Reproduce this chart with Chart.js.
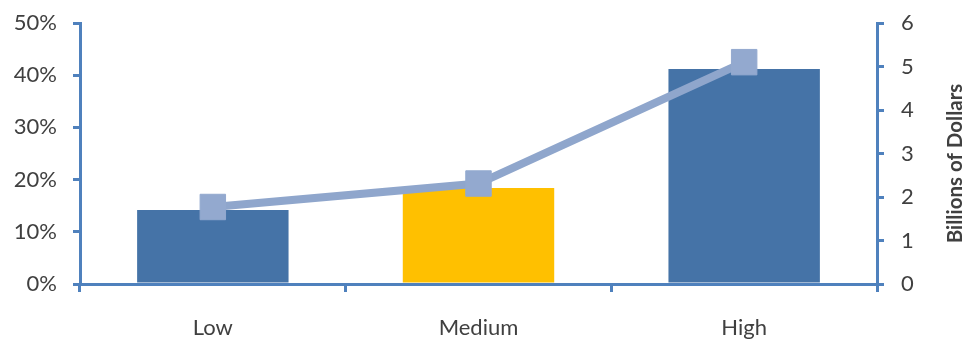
<!DOCTYPE html>
<html>
<head>
<meta charset="utf-8">
<script src="https://cdn.jsdelivr.net/npm/chart.js@4.4.1/dist/chart.umd.min.js"></script>
<style>
  html, body { margin: 0; padding: 0; background: #ffffff; }
  #wrap { width: 966px; height: 339px; }
</style>
</head>
<body>
<div id="wrap"><canvas id="risk-chart" width="966" height="339"></canvas></div>
<script>
const categories = ['Low', 'Medium', 'High'];
const shareValues = [0.142, 0.184, 0.412];   // left axis, percent
const billionValues = [1.77, 2.31, 5.1];     // right axis, billions
const rightAxisTitle = 'Billions of Dollars';

const axisBlue = '#4F81BD';
const textGrey = '#404040';
const barColors = ['#4573A7', '#FFC000', '#4573A7'];
const lineColor = '#8FA6CC';
const fontFamily = 'Lato, "Liberation Sans", sans-serif';

// Chart.js rotates right-side titles the other way, so draw it by hand
const rightTitlePlugin = {
  id: 'rightTitle',
  afterDraw(chart) {
    const ctx = chart.ctx;
    const area = chart.chartArea;
    ctx.save();
    ctx.translate(955, (area.top + area.bottom) / 2 + 10);
    ctx.rotate(-Math.PI / 2);
    ctx.font = 'bold 20.5px ' + fontFamily;
    ctx.fillStyle = textGrey;
    ctx.textAlign = 'center';
    ctx.textBaseline = 'middle';
    ctx.fillText(rightAxisTitle, 0, 0);
    ctx.restore();
  },
};

// fixed box for the value axes so the plot sits where it should
function fitValueAxis(width) {
  return (scale) => {
    scale.width = width;
    scale.paddingTop = 12;
    scale.paddingBottom = 12;
  };
}

const ctx = document.getElementById('risk-chart').getContext('2d');
new Chart(ctx, {
  data: {
    labels: categories,
    datasets: [
      {
        type: 'line',
        data: billionValues,
        yAxisID: 'y1',
        order: 0,
        borderColor: lineColor,
        borderWidth: 8,
        pointStyle: 'rect',
        pointRadius: 18,
        pointBackgroundColor: '#93A9CF',
        pointBorderColor: '#93A9CF',
        pointBorderWidth: 1,
        tension: 0,
      },
      {
        type: 'bar',
        data: shareValues,
        yAxisID: 'y',
        order: 1,
        backgroundColor: barColors,
        barPercentage: 0.57,
        categoryPercentage: 1,
      },
    ],
  },
  options: {
    responsive: false,
    animation: false,
    layout: { padding: { top: 23, left: 0, right: 0, bottom: 0 } },
    plugins: {
      legend: { display: false },
      tooltip: { enabled: false },
    },
    scales: {
      x: {
        afterFit(scale) { scale.height = 55; },
        border: { color: axisBlue, width: 3 },
        grid: {
          offset: true,
          drawOnChartArea: false,
          color: axisBlue,
          lineWidth: 3,
          tickLength: 8,
        },
        ticks: {
          color: textGrey,
          padding: 23,
          font: { family: fontFamily, size: 22 },
        },
      },
      y: {
        position: 'left',
        min: 0,
        max: 0.5,
        afterFit: fitValueAxis(80),
        border: { color: axisBlue, width: 3 },
        grid: {
          drawOnChartArea: false,
          color: axisBlue,
          lineWidth: 3,
          tickLength: 7,
        },
        ticks: {
          stepSize: 0.1,
          color: textGrey,
          padding: 16,
          font: { family: fontFamily, size: 22 },
          callback: (v) => Math.round(v * 100) + '%',
        },
      },
      y1: {
        position: 'right',
        min: 0,
        max: 6,
        afterFit: fitValueAxis(89),
        border: { color: axisBlue, width: 3 },
        grid: {
          drawOnChartArea: false,
          color: axisBlue,
          lineWidth: 3,
          tickLength: 7,
        },
        ticks: {
          stepSize: 1,
          color: textGrey,
          padding: 17,
          font: { family: fontFamily, size: 22 },
        },
      },
    },
  },
  plugins: [rightTitlePlugin],
});
</script>
</body>
</html>
